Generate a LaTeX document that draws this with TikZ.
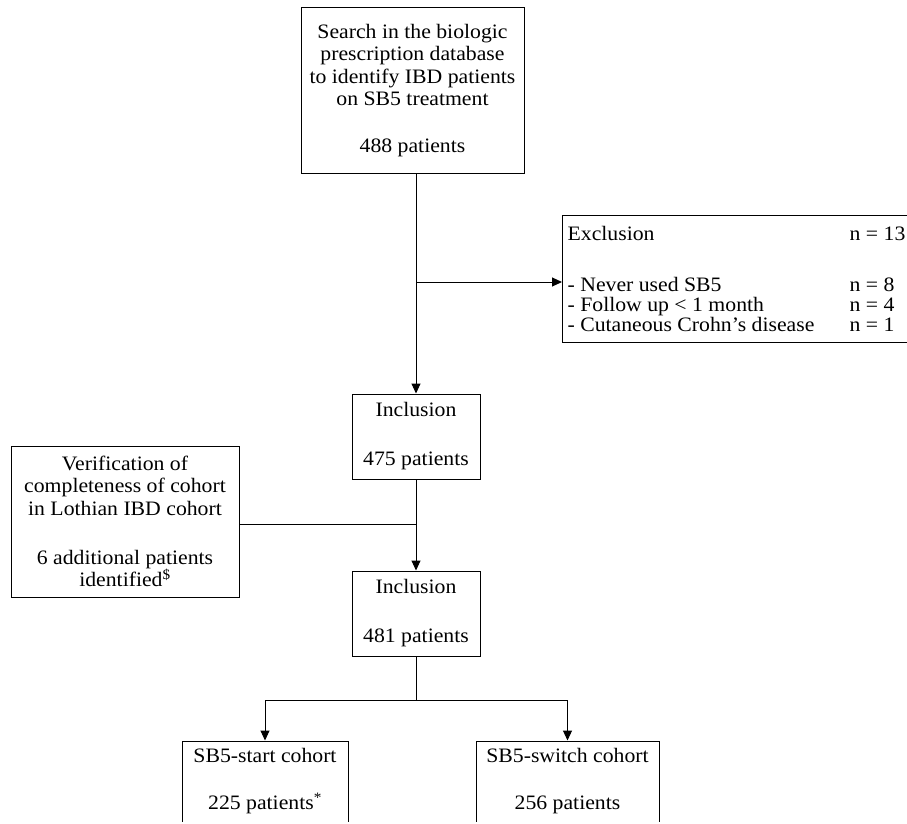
\documentclass[tikz,border=0pt]{standalone}
\usepackage{fontspec}
\setmainfont[FakeStretch=1.06]{Liberation Serif}
\usetikzlibrary{arrows.meta}
\newcommand{\exrow}[2]{\makebox[282pt][l]{#1}#2}
\begin{document}
\begin{tikzpicture}[x=1pt,y=-1pt,
  box/.style={draw, line width=1pt, inner sep=0pt, align=center,
    font=\fontsize{20.5}{22.5}\selectfont},
  arr/.style={-{Triangle[length=10pt,width=9pt]}, line width=1pt},
  ln/.style={line width=1pt}]
\useasboundingbox (0,0) rectangle (907,824);

\node[box, minimum width=223, minimum height=165] (top) at (412.5,90.5)
  {Search in the biologic\\prescription database\\to identify IBD patients\\on SB5 treatment\\[24.5pt]488 patients};

\node[box, anchor=west, minimum width=348, minimum height=127, align=left,
  inner xsep=5pt, font=\fontsize{20.5}{20}\selectfont] (excl) at (562,279)
  {\exrow{Exclusion}{n = 13}\\[31pt]
   \exrow{- Never used SB5}{n = 8}\\
   \exrow{- Follow up < 1 month}{n = 4}\\
   \exrow{- Cutaneous Crohn’s disease}{n = 1}};

\node[box, minimum width=128, minimum height=85] (inc1) at (416,436.5)
  {Inclusion\\[26.5pt]475 patients};

\node[box, minimum width=228, minimum height=151] (ver) at (125,521.5)
  {Verification of\\completeness of cohort\\in Lothian IBD cohort\\[26.5pt]6 additional patients\\identified\textsuperscript{\$}};

\node[box, minimum width=128, minimum height=85] (inc2) at (416,613.5)
  {Inclusion\\[26.5pt]481 patients};

\begin{scope}
\clip (0,0) rectangle (907,821.5);
\node[box, minimum width=166, minimum height=81] (start) at (265,781.5)
  {SB5-start cohort\\[24.5pt]225 patients\textsuperscript{*}};
\node[box, minimum width=183, minimum height=81] (switch) at (567.5,781.5)
  {SB5-switch cohort\\[24.5pt]256 patients};
\end{scope}

\coordinate (j1) at (416,282);
\coordinate (j2) at (416,524);
\coordinate (j3) at (416,700);

\draw[arr] (top.south -| inc1.north) -- (inc1.north);
\draw[arr] (j1) -- (j1 -| excl.west);
\draw[ln] (ver.east |- j2) -- (j2);
\draw[arr] (inc1.south) -- (inc2.north);
\draw[ln] (inc2.south) -- (j3);
\draw[arr] (j3) -| (start.north);
\draw[arr] (j3) -| (switch.north);
\end{tikzpicture}
\end{document}
